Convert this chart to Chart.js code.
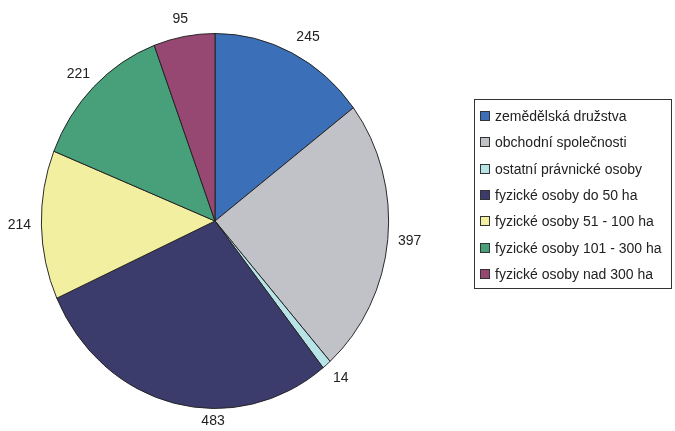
<!DOCTYPE html>
<html>
<head>
<meta charset="utf-8">
<script src="https://cdn.jsdelivr.net/npm/chart.js@4.4.1/dist/chart.umd.min.js"></script>
<style>
    html, body { margin: 0; padding: 0; background: #fff; }
    #wrap { position: relative; width: 675px; height: 431px; }
    #legend {
        position: absolute; left: 474px; top: 99px; width: 198px; height: 190px;
        border: 1px solid #333; box-sizing: border-box;
        font-family: "Liberation Sans", Arial, sans-serif; font-size: 14px; color: #222;
        padding-top: 3px;
    }
    .item { display: flex; align-items: center; height: 26.3px; padding-left: 5px; }
    .box { width: 8px; height: 8px; border: 1px solid #333; margin-right: 5px; flex: none; }
</style>
</head>
<body>
<div id="wrap">
    <canvas id="chart" width="675" height="431"></canvas>
    <div id="legend"></div>
</div>
<script>
const categories = [
    "zemědělská družstva",
    "obchodní společnosti",
    "ostatní právnické osoby",
    "fyzické osoby do 50 ha",
    "fyzické osoby 51 - 100 ha",
    "fyzické osoby 101 - 300 ha",
    "fyzické osoby nad 300 ha"
];
const values = [245, 397, 14, 483, 214, 221, 95];
const colors = ["#3b70b8", "#c0c2c7", "#b8e4e8", "#3c3c6c", "#f2efa1", "#47a07a", "#964873"];

// Excel kreslí koláč jako elipsu -> zúžení ve směru x
const squeezeX = 0.926;

const ellipsePlugin = {
    id: "ellipse",
    beforeDatasetsDraw(chart) {
        const arc = chart.getDatasetMeta(0).data[0];
        const ctx = chart.ctx;
        ctx.save();
        ctx.translate(arc.x, arc.y);
        ctx.scale(squeezeX, 1);
        ctx.translate(-arc.x, -arc.y);
    },
    afterDatasetsDraw(chart) {
        chart.ctx.restore();
    }
};

// popisky hodnot vně výsečí
const labelNudge = { 0: 6, 3: 44 };
const valueLabels = {
    id: "valueLabels",
    afterDraw(chart) {
        const ctx = chart.ctx;
        ctx.save();
        ctx.font = '14px "Liberation Sans", Arial, sans-serif';
        ctx.fillStyle = "#222";
        ctx.textAlign = "center";
        ctx.textBaseline = "middle";
        chart.getDatasetMeta(0).data.forEach((arc, i) => {
            const mid = (arc.startAngle + arc.endAngle) / 2;
            const r = arc.outerRadius;
            const x = arc.x + Math.cos(mid) * (r * squeezeX + 22) + (labelNudge[i] || 0);
            const y = arc.y + Math.sin(mid) * (r + 18);
            ctx.fillText(String(values[i]), x, y);
        });
        ctx.restore();
    }
};

new Chart(document.getElementById("chart"), {
    type: "pie",
    data: {
        labels: categories,
        datasets: [{
            data: values,
            backgroundColor: colors,
            borderColor: "#222",
            borderWidth: 1
        }]
    },
    options: {
        responsive: false,
        animation: false,
        layout: { padding: { left: 27, top: 33, right: 272, bottom: 22 } },
        plugins: {
            legend: { display: false },
            tooltip: { enabled: false }
        }
    },
    plugins: [ellipsePlugin, valueLabels]
});

const legend = document.getElementById("legend");
categories.forEach((name, i) => {
    const row = document.createElement("div");
    row.className = "item";
    row.innerHTML = `<span class="box" style="background:${colors[i]}"></span><span>${name}</span>`;
    legend.appendChild(row);
});
</script>
</body>
</html>
